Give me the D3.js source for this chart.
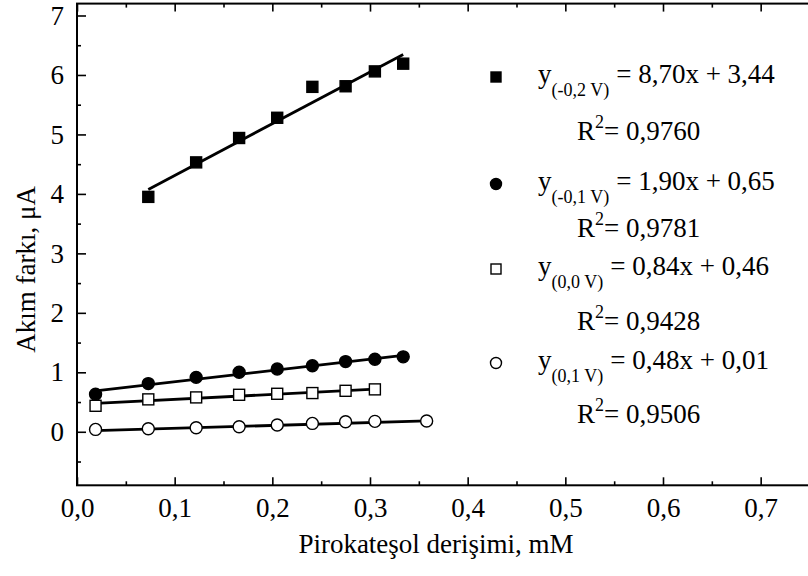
<!DOCTYPE html>
<html>
<head>
<meta charset="utf-8">
<script src="https://cdn.jsdelivr.net/npm/d3@7"></script>
<style>
  body { margin: 0; background: #fff; }
  text { font-family: "Liberation Serif", "Times New Roman", serif; fill: #000; }
</style>
</head>
<body>
<div id="chart"></div>
<script>
// data
const xSq = [0.073, 0.122, 0.166, 0.205, 0.241, 0.275, 0.305, 0.334]
const ySq = [3.95, 4.53, 4.94, 5.28, 5.80, 5.81, 6.06, 6.19]

const xDot = [0.019, 0.073, 0.122, 0.166, 0.205, 0.241, 0.275, 0.305, 0.334]
const yDot = [0.63, 0.81, 0.915, 1.0, 1.055, 1.11, 1.18, 1.22, 1.26]

const xOpenSq = [0.019, 0.073, 0.122, 0.166, 0.205, 0.241, 0.275, 0.305]
const yOpenSq = [0.437, 0.545, 0.578, 0.622, 0.639, 0.651, 0.689, 0.713]

const xOpenDot = [0.019, 0.073, 0.122, 0.166, 0.205, 0.241, 0.275, 0.305, 0.358]
const yOpenDot = [0.04, 0.05, 0.067, 0.084, 0.113, 0.141, 0.168, 0.175, 0.18]

const potentials = ["(-0,2 V)", "(-0,1 V)", "(0,0 V)", "(0,1 V)"]
const slopes = [8.70, 1.90, 0.84, 0.48]
const intercepts = [3.44, 0.65, 0.46, 0.01]
const r2 = ["0,9760", "0,9781", "0,9428", "0,9506"]

const xTicks = [0, 0.1, 0.2, 0.3, 0.4, 0.5, 0.6, 0.7]
const yTicks = [0, 1, 2, 3, 4, 5, 6, 7]

//canvas
const WIDTH = 808
const HEIGHT = 576
const FS = 27

const svg = d3.select("#chart").append("svg")
  .attr("width", WIDTH)
  .attr("height", HEIGHT)

const x = d3.scaleLinear().domain([0, 0.75]).range([77, 809.5])
const y = d3.scaleLinear().domain([-0.9, 7.2]).range([485.3, 3.6])

const comma = (f) => (v) => d3.format(f)(v).replace(".", ",")

//axes
const gx = svg.append("g").attr("transform", `translate(0,${y(-0.9)})`)
  .call(d3.axisBottom(x).tickValues(xTicks).tickSize(-8).tickPadding(13).tickFormat(comma(".1f")))
const gxMinor = svg.append("g").attr("transform", `translate(0,${y(-0.9)})`)
  .call(d3.axisBottom(x).tickValues(d3.range(0.05, 0.75, 0.1)).tickSize(-4).tickFormat(""))
const gxTop = svg.append("g").attr("transform", `translate(0,${y(7.2)})`)
  .call(d3.axisTop(x).tickValues(xTicks).tickSize(-8).tickFormat(""))
const gxTopMinor = svg.append("g").attr("transform", `translate(0,${y(7.2)})`)
  .call(d3.axisTop(x).tickValues(d3.range(0.05, 0.75, 0.1)).tickSize(-4).tickFormat(""))

const gy = svg.append("g").attr("transform", `translate(${x(0)},0)`)
  .call(d3.axisLeft(y).tickValues(yTicks).tickSize(-9).tickPadding(13).tickFormat(d3.format("d")))
const gyMinor = svg.append("g").attr("transform", `translate(${x(0)},0)`)
  .call(d3.axisLeft(y).tickValues(d3.range(-0.5, 7.2, 1)).tickSize(-4).tickFormat(""))

svg.selectAll(".domain").remove()
svg.selectAll(".tick line").attr("stroke", "#000").attr("stroke-width", 1.6)
svg.selectAll(".tick text").attr("font-size", FS).attr("font-family", "Liberation Serif")

//frame
svg.append("rect")
  .attr("x", x(0)).attr("y", y(7.2))
  .attr("width", x(0.75) - x(0)).attr("height", y(-0.9) - y(7.2))
  .attr("fill", "none").attr("stroke", "#000").attr("stroke-width", 2)

//axis titles
svg.append("text")
  .attr("transform", `translate(35,${(y(-0.9) + y(7.2)) / 2 + 25}) rotate(-90)`)
  .attr("text-anchor", "middle").attr("font-size", FS)
  .text("Akım farkı, μA")

svg.append("text")
  .attr("x", 436).attr("y", 553)
  .attr("text-anchor", "middle").attr("font-size", FS)
  .text("Pirokateşol derişimi, mM")

//series
const series = [
  { xs: xSq, ys: ySq, shape: "square", fill: "#000" },
  { xs: xDot, ys: yDot, shape: "circle", fill: "#000" },
  { xs: xOpenSq, ys: yOpenSq, shape: "square", fill: "#fff" },
  { xs: xOpenDot, ys: yOpenDot, shape: "circle", fill: "#fff" }
]

// fitted lines from the equations
series.forEach((s, i) => {
  const x0 = d3.min(s.xs), x1 = d3.max(s.xs)
  svg.append("line")
    .attr("x1", x(x0)).attr("y1", y(slopes[i] * x0 + intercepts[i]))
    .attr("x2", x(x1)).attr("y2", y(slopes[i] * x1 + intercepts[i]))
    .attr("stroke", "#000").attr("stroke-width", 2.8)
})

const drawMarker = (g, shape, fill, cx, cy, size) => {
  if (shape === "square") {
    g.append("rect")
      .attr("x", cx - size / 2).attr("y", cy - size / 2)
      .attr("width", size).attr("height", size)
      .attr("fill", fill).attr("stroke", "#000").attr("stroke-width", 1.4)
  } else {
    g.append("circle")
      .attr("cx", cx).attr("cy", cy).attr("r", size / 2 + 0.5)
      .attr("fill", fill).attr("stroke", "#000").attr("stroke-width", 1.4)
  }
}

series.forEach((s) => {
  const g = svg.append("g")
  s.xs.forEach((xv, j) => drawMarker(g, s.shape, s.fill, x(xv), y(s.ys[j]), 11))
})

//legend
const eqBase = [83, 190, 275, 369]
const r2Base = [140, 237, 330, 423]

series.forEach((s, i) => {
  const g = svg.append("g")
  drawMarker(g, s.shape, s.fill, 496, eqBase[i] - 6, 10)

  const t = g.append("text").attr("x", 538).attr("y", eqBase[i]).attr("font-size", FS)
  t.append("tspan").text("y")
  t.append("tspan").attr("font-size", 18).attr("dy", 13).text(potentials[i])
  t.append("tspan").attr("dy", -13).attr("dx", 7)
    .text(`= ${comma(".2f")(slopes[i])}x + ${comma(".2f")(intercepts[i])}`)

  const r = g.append("text").attr("x", 577).attr("y", r2Base[i]).attr("font-size", FS)
  r.append("tspan").text("R")
  r.append("tspan").attr("font-size", 18).attr("dy", -12).text("2")
  r.append("tspan").attr("dy", 12).text(`= ${r2[i]}`)
})
</script>
</body>
</html>
